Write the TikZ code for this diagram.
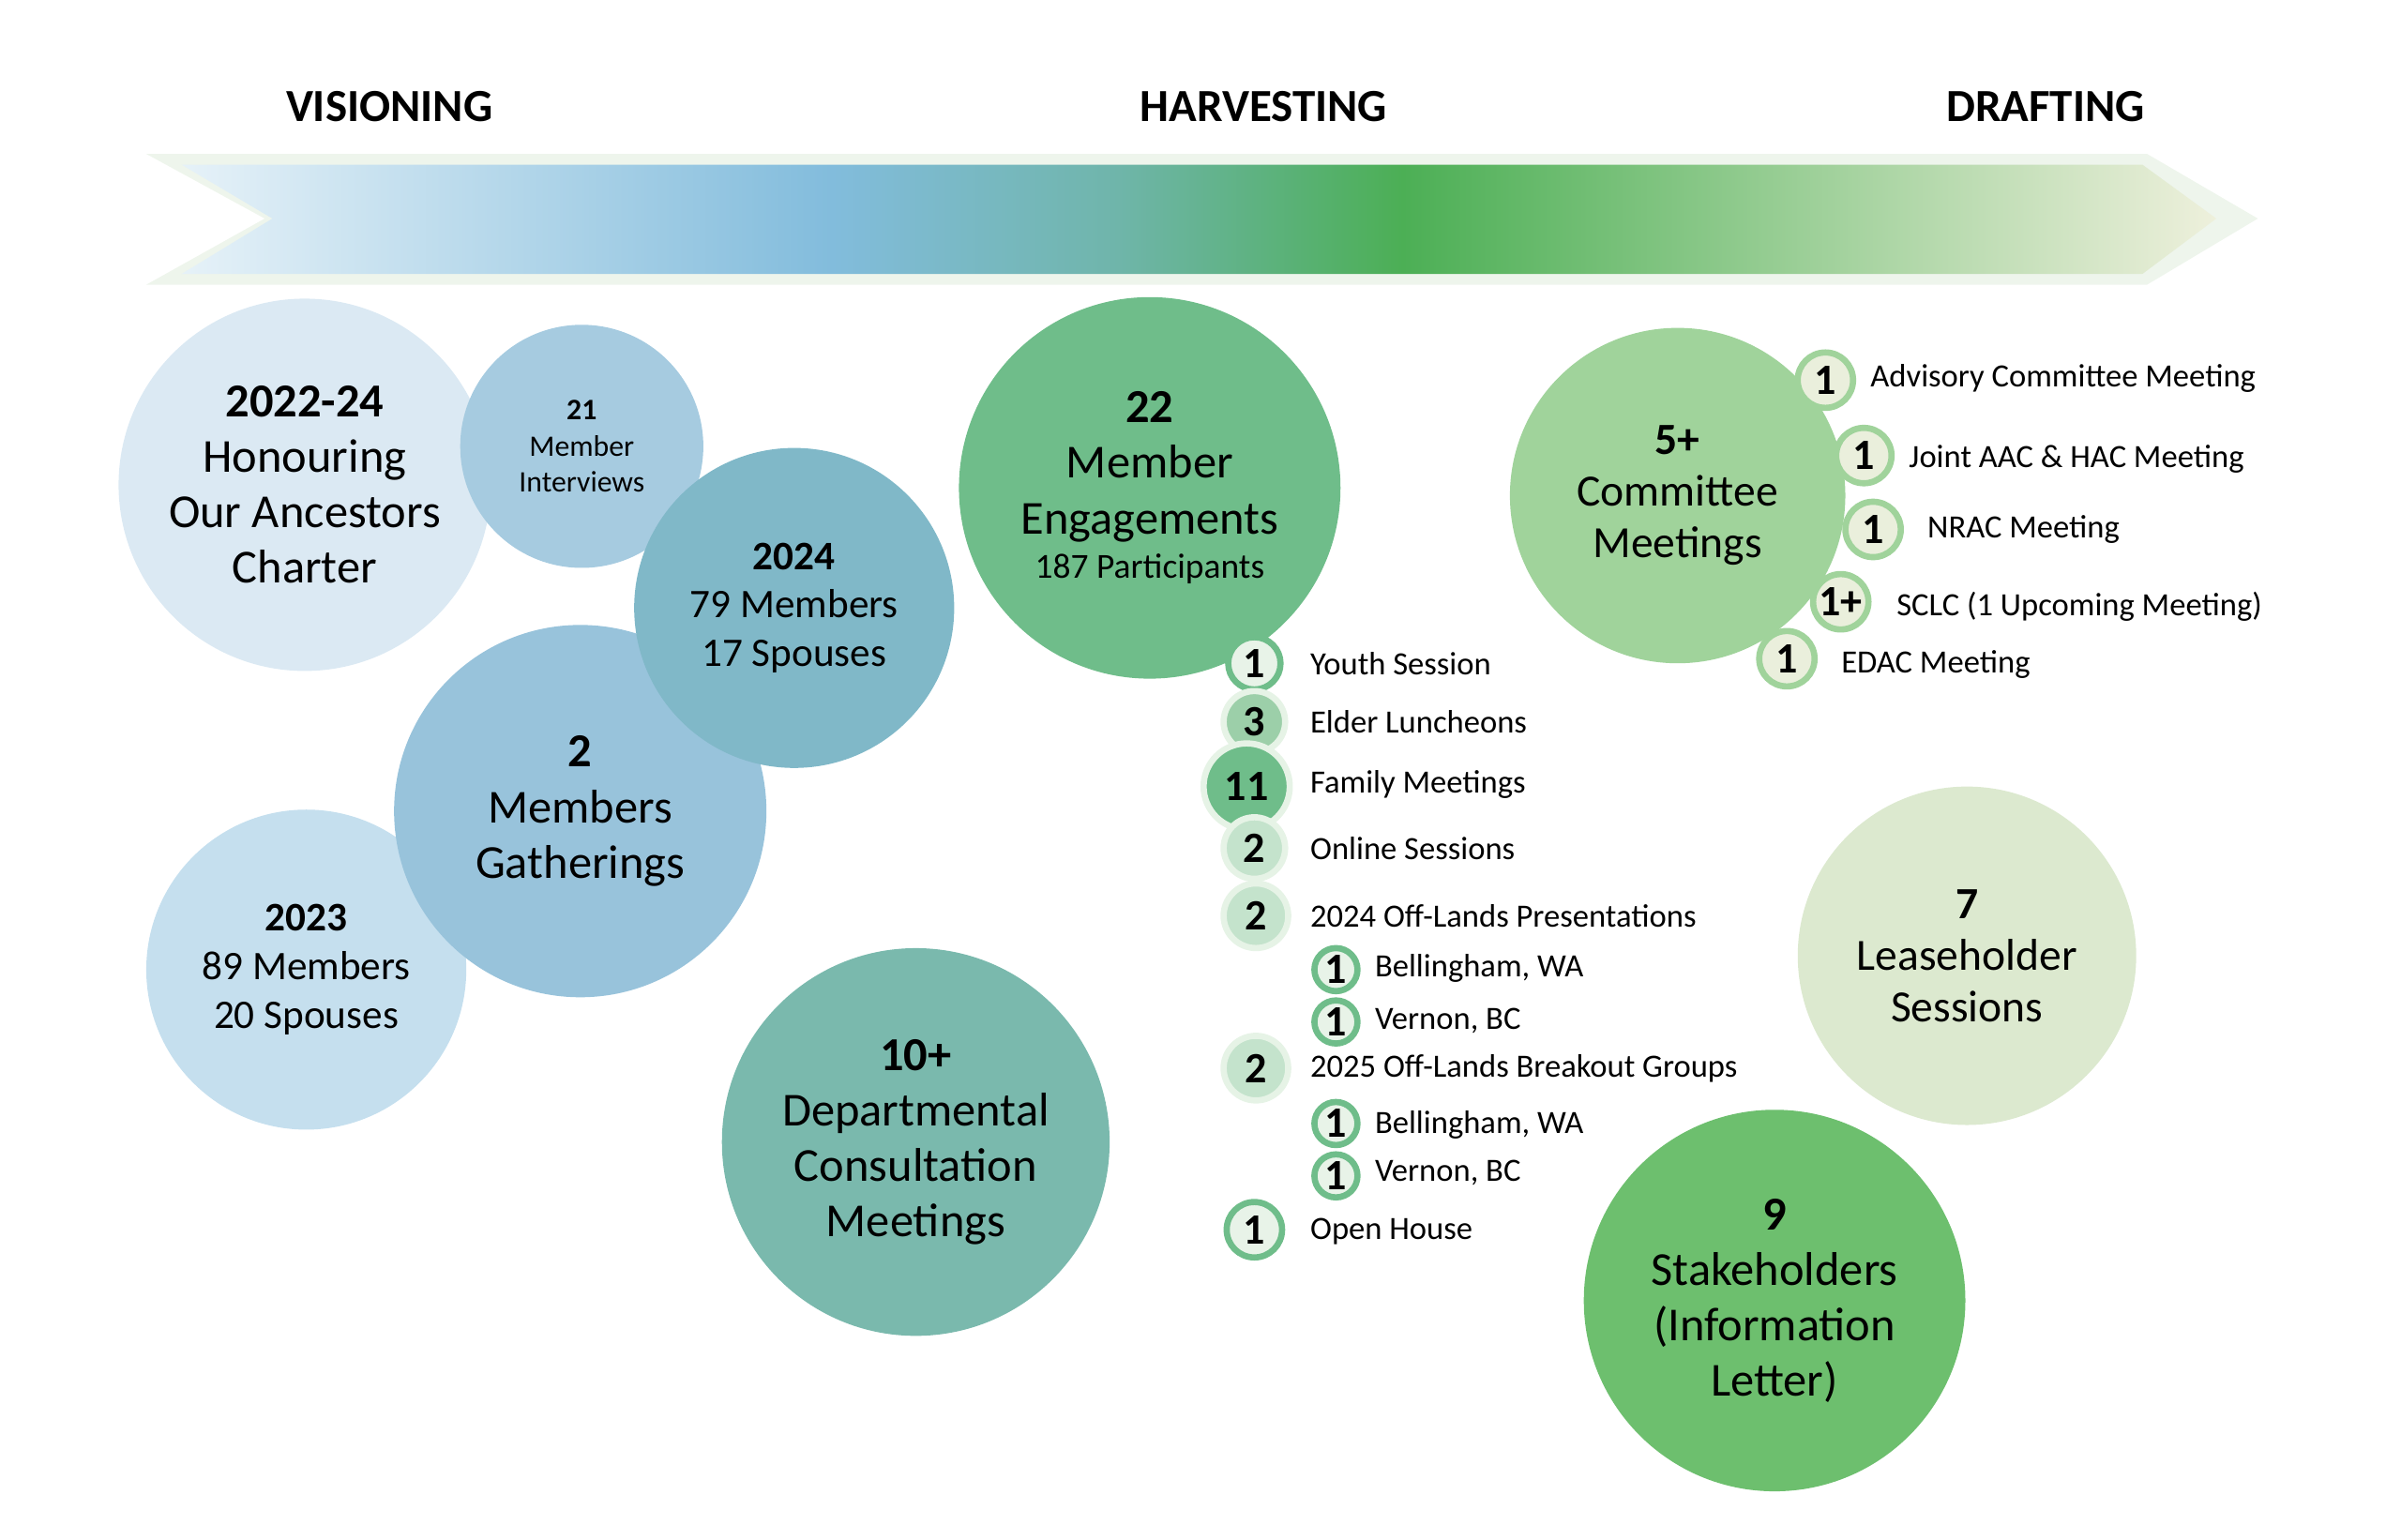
\documentclass[tikz,border=0pt]{standalone}
\usepackage{fontspec}
\setmainfont{Carlito}
\definecolor{cA}{HTML}{DBE9F3}
\definecolor{cB}{HTML}{A6CBE0}
\definecolor{cC}{HTML}{80B8C8}
\definecolor{cD}{HTML}{98C3DB}
\definecolor{cE}{HTML}{C5DFEE}
\definecolor{cF}{HTML}{7AB9AD}
\definecolor{cG}{HTML}{6FBD8A}
\definecolor{cH}{HTML}{A0D39B}
\definecolor{cI}{HTML}{DCE9CF}
\definecolor{cJ}{HTML}{6DBF6E}
\definecolor{ringpale}{HTML}{E6F3E6}
\definecolor{fillone}{HTML}{E8F3E8}
\definecolor{fillcom}{HTML}{EAEFDC}
\definecolor{fillthree}{HTML}{9CCFA9}
\definecolor{filltwo}{HTML}{C4E3CC}
\definecolor{outer}{HTML}{EEF5EC}
\definecolor{bblue}{HTML}{82BCDC}
\definecolor{bteal}{HTML}{6FB5AA}
\definecolor{bgreen}{HTML}{4CAF55}
\definecolor{bend}{HTML}{EEF0DC}
\pgfdeclarehorizontalshading{band}{100bp}{color(0bp)=(white); color(25bp)=(white!80!bblue); color(41bp)=(bblue); color(48bp)=(bteal); color(55bp)=(bgreen); color(75bp)=(bend); color(100bp)=(bend)}
\newcommand{\fs}[2]{\fontsize{#1}{#2}\selectfont}
\tikzset{
  big/.style={circle,minimum size=#1*0.04cm,inner sep=0pt,align=center,text=black},
  hd/.style={font=\fs{17}{20}\bfseries},
  lab/.style={anchor=west,font=\fs{12}{14},inner sep=0pt},
  num/.style={circle,minimum size=#1*0.04cm,inner sep=0pt,font=\fs{16}{18}\bfseries},
  one/.style={num=#1,fill=fillone,draw=cG,line width=2.3pt},
  com/.style={num=18,fill=fillcom,draw=cH,line width=2.3pt},
  fL/.style={font=\fs{17.5}{20.5}},
  fM/.style={font=\fs{15}{18}},
}
\begin{document}
\begin{tikzpicture}[x=0.02cm,y=-0.02cm]
\useasboundingbox (0,0) rectangle (1560,1000.6);
% headers
\node[hd] (h1) at (253,69) {VISIONING};
\node[hd] (h2) at (821,69) {HARVESTING};
\node[hd] (h3) at (1329,69) {DRAFTING};
% band
\fill[outer] (95,100) -- (1395,100) -- (1467,142) -- (1395,185) -- (95,185) -- (172,142) -- cycle;
\shade[shading=band] (118,107) -- (1392,107) -- (1440,142) -- (1392,178) -- (118,178) -- (177,142) -- cycle;
% visioning circles
\node[big=121,fill=cA,fL] (c1) at (198,315) {\textbf{2022-24}\\Honouring\\Our Ancestors\\Charter};
\node[big=79,fill=cB,font=\fs{11}{13.3}] (c2) at (378,290) {\textbf{21}\\Member\\Interviews};
\node[big=104,fill=cE,fM] (c5) at (199,630) {\textbf{2023}\\89 Members\\20 Spouses};
\node[big=121,fill=cD,fL] (c4) at (377,527) {\textbf{2}\\Members\\Gatherings};
\node[big=104,fill=cC,fM] (c3) at (516,395) {\textbf{2024}\\79 Members\\17 Spouses};
\node[big=126,fill=cF,fL] (c6) at (595,742) {\textbf{10+}\\Departmental\\Consultation\\Meetings};
% harvesting
\node[big=124,fill=cG,fL] (c7) at (747,317) {\textbf{22}\\Member\\Engagements\\[-4pt]{\fs{13}{15}187 Participants}};
\node[one=17] (n1) at (815,431) {1};
\node[lab] (l1) at (851,431) {Youth Session};
\node[num=20,fill=fillthree,draw=ringpale,line width=2.3pt] (n2) at (815,469) {3};
\node[lab] (l2) at (851,469) {Elder Luncheons};
\node[num=28,fill=cG,draw=ringpale,line width=2.3pt] (n3) at (810,511) {11};
\node[lab] (l3) at (851,510) {Family Meetings};
\node[num=20,fill=filltwo,draw=ringpale,line width=2.3pt] (n4) at (815,551) {2};
\node[lab] (l4) at (851,551) {Online Sessions};
\node[num=21,fill=filltwo,draw=ringpale,line width=2.3pt] (n5) at (816,595) {2};
\node[lab] (l5) at (851,595) {2024 Off-Lands Presentations};
\node[one=14] (n6) at (868,630) {1};
\node[lab] (l6) at (893,629) {Bellingham, WA};
\node[one=14] (n7) at (868,664) {1};
\node[lab] (l7) at (893,663) {Vernon, BC};
\node[num=21,fill=filltwo,draw=ringpale,line width=2.3pt] (n8) at (816,694) {2};
\node[lab] (l8) at (851,694) {2025 Off-Lands Breakout Groups};
\node[one=14] (n9) at (868,730) {1};
\node[lab] (l9) at (893,731) {Bellingham, WA};
\node[one=14] (n10) at (868,764) {1};
\node[lab] (l10) at (893,762) {Vernon, BC};
\node[one=18] (n11) at (815,799) {1};
\node[lab] (l11) at (851,800) {Open House};
% drafting
\node[big=109,fill=cH,font=\fs{16.5}{19}] (c8) at (1090,322) {\textbf{5+}\\Committee\\Meetings};
\node[com] (m1) at (1186,247) {1};
\node[lab] (k1) at (1215,246) {Advisory Committee Meeting};
\node[com] (m2) at (1211,296) {1};
\node[lab] (k2) at (1240,298) {Joint AAC \& HAC Meeting};
\node[com] (m3) at (1217,344) {1};
\node[lab] (k3) at (1252,344) {NRAC Meeting};
\node[com] (m4) at (1196,391) {1+};
\node[lab] (k4) at (1232,394) {SCLC (1 Upcoming Meeting)};
\node[com] (m5) at (1161,428) {1};
\node[lab] (k5) at (1196,432) {EDAC Meeting};
\node[big=110,fill=cI,font=\fs{16.5}{19}] (c9) at (1278,621) {\textbf{7}\\Leaseholder\\Sessions};
\node[big=124,fill=cJ,fL] (c10) at (1153,845) {\textbf{9}\\Stakeholders\\(Information\\Letter)};
\end{tikzpicture}
\end{document}
